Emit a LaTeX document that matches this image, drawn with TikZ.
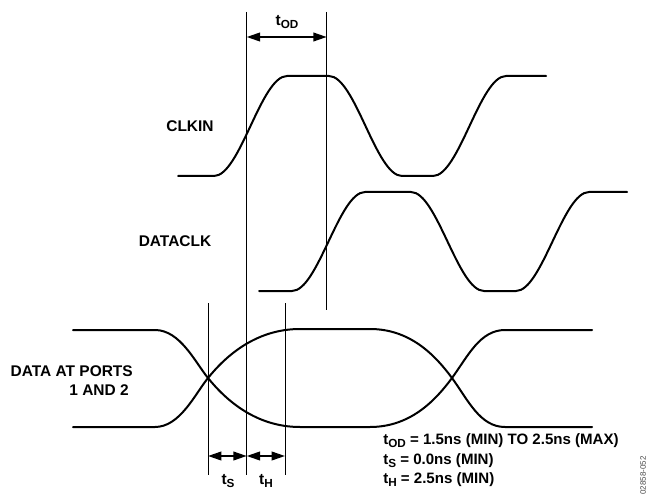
\documentclass[tikz,border=0pt]{standalone}
\usepackage{fontspec}
\setmainfont{Liberation Sans}
\usetikzlibrary{arrows.meta}
\newcommand\mysub[1]{\raisebox{-0.35ex}{\fontsize{8.8}{9}\selectfont\bfseries #1}}
\tikzset{
  wave/.style={line width=1.5pt, line join=round, line cap=round},
  guide/.style={line width=0.6pt},
  dim/.style={line width=1.3pt, {Triangle[length=10pt,width=6.5pt]}-{Triangle[length=10pt,width=6.5pt]}},
  lbl/.style={font=\fontsize{11.6}{13}\selectfont\bfseries, inner sep=0pt},
}
\begin{document}
\begin{tikzpicture}[x=0.75pt,y=-0.75pt]
\useasboundingbox (0,0) rectangle (646,499);
% guide lines
\coordinate (aT) at (246.7,12);  \coordinate (aB) at (246.7,475);
\coordinate (bT) at (326.7,12);  \coordinate (bB) at (326.7,310);
\coordinate (sT) at (208,303);   \coordinate (sB) at (208,475);
\coordinate (hT) at (285,303);   \coordinate (hB) at (285,475);
\draw[guide] (aT) -- (aB);
\draw[guide] (bT) -- (bB);
\draw[guide] (sT) -- (sB);
\draw[guide] (hT) -- (hB);
% dimension arrows
\coordinate (odL) at (246.7,37); \coordinate (odR) at (326.7,37);
\coordinate (sL) at (208,456); \coordinate (sM) at (246.7,456); \coordinate (sR) at (285,456);
\draw[dim] (odL) -- (odR);
\draw[dim] (sL) -- (sM);
\draw[dim] (sM) -- (sR);
\node[lbl] (tod) at (287,22) {t\mysub{OD}};
\node[lbl] (ts) at (228,481) {t\mysub{S}};
\node[lbl] (th) at (266,481) {t\mysub{H}};
% CLKIN
\draw[wave] (178,176) -- (214,176)
  .. controls (240,176) and (261,76) .. (287,76) -- (329,76)
  .. controls (355,76) and (376,176) .. (402,176) -- (433,176)
  .. controls (459,176) and (480,76) .. (506,76) -- (546,76);
% DATACLK
\draw[wave] (259,291) -- (292,291)
  .. controls (318,291) and (339,192) .. (365,192) -- (411,192)
  .. controls (437,192) and (458,291) .. (484,291) -- (516,291)
  .. controls (542,291) and (563,192) .. (589,192) -- (627,192);
% DATA
\draw[wave] (73,330) -- (155,330)
  .. controls (180,330) and (195,362) .. (208,378)
  .. controls (225,399) and (255,427) .. (300,427) -- (370,427)
  .. controls (410,427) and (435,401) .. (452,378)
  .. controls (468,356) and (480,330) .. (505,330) -- (592,330);
\draw[wave] (73,427) -- (155,427)
  .. controls (180,427) and (195,394) .. (208,378)
  .. controls (225,357) and (255,329) .. (300,329) -- (370,329)
  .. controls (410,329) and (435,355) .. (452,378)
  .. controls (468,400) and (480,427) .. (505,427) -- (592,427);
% labels
\node[lbl] (clkin) at (190,126) {CLKIN};
\node[lbl] (dataclk) at (175,241) {DATACLK};
\node[lbl, anchor=east] (dap) at (133,371) {DATA AT PORTS};
\node[lbl, anchor=east] (and) at (129,390) {1 AND 2};
\node[lbl, anchor=west, font=\fontsize{11.3}{13}\selectfont\bfseries] (l1) at (383,441) {t\mysub{OD} = 1.5ns (MIN) TO 2.5ns (MAX)};
\node[lbl, anchor=west, font=\fontsize{11.3}{13}\selectfont\bfseries] (l2) at (383,461) {t\mysub{S} = 0.0ns (MIN)};
\node[lbl, anchor=west, font=\fontsize{11.3}{13}\selectfont\bfseries] (l3) at (383,480) {t\mysub{H} = 2.5ns (MIN)};
\node[rotate=90, anchor=east, inner sep=0pt, text=black!70, font=\fontsize{6}{7}\selectfont] (code) at (643,456) {02858-052};
\end{tikzpicture}
\end{document}
